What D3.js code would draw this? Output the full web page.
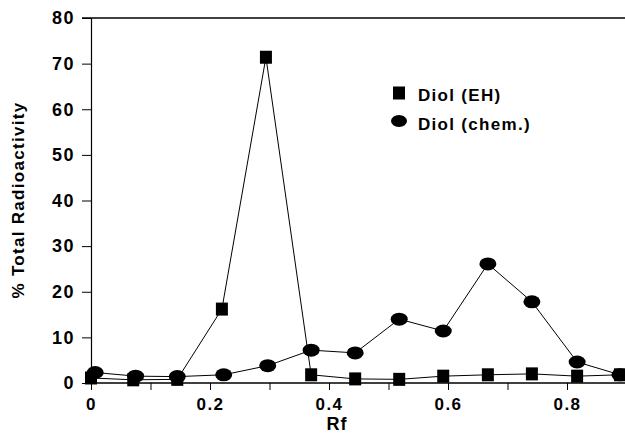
<!DOCTYPE html>
<html>
<head>
<meta charset="utf-8">
<script src="https://cdn.jsdelivr.net/npm/d3@7"></script>
<style>
  body { margin: 0; background: #fff; }
  svg { display: block; font-family: Arial, "Liberation Sans", Helvetica, sans-serif; }
  text { font-weight: bold; fill: #000; }
</style>
</head>
<body>
<div id="main"></div>
<script>
// Rf positions of the fractions
const rfEH = [0, 0.071, 0.145, 0.220, 0.294, 0.370, 0.444, 0.518, 0.592, 0.667, 0.741, 0.817, 0.889];
const valEH = [1.1, 0.7, 0.8, 16.2, 71.4, 1.8, 0.9, 0.8, 1.5, 1.8, 2.0, 1.5, 1.8];
const rfChem = [0.007, 0.075, 0.145, 0.223, 0.297, 0.370, 0.444, 0.518, 0.592, 0.667, 0.741, 0.817, 0.889];
const valChem = [2.3, 1.5, 1.4, 1.8, 3.8, 7.2, 6.6, 14.0, 11.4, 26.1, 17.8, 4.6, 1.8];
const yTicks = [0, 10, 20, 30, 40, 50, 60, 70, 80];
const xTicks = [0, 0.1, 0.2, 0.3, 0.4, 0.5, 0.6, 0.7, 0.8];
const xLabels = ["0", "", "0.2", "", "0.4", "", "0.6", "", "0.8"];
const seriesNames = ["Diol (EH)", "Diol (chem.)"];

const width = 625, height = 435;
const margin = { left: 91, top: 18 };

const svg = d3.select("div#main").append("svg")
  .attr("width", width)
  .attr("height", height);

const x = d3.scaleLinear().domain([0, 0.9]).range([margin.left, margin.left + 535.5]);
const y = d3.scaleLinear().domain([0, 80]).range([383, margin.top]);

//Axes.
const yAxis = svg.append("g")
  .attr("transform", "translate(" + margin.left + ",0)")
  .call(d3.axisLeft(y).tickValues(yTicks).tickSize(9).tickPadding(7).tickFormat(d3.format("d")));
yAxis.select(".domain").attr("stroke-width", 1.2);
yAxis.selectAll("text").style("font-size", "18px").style("letter-spacing", "1.5px");

const xAxis = svg.append("g")
  .attr("transform", "translate(0," + y(0) + ")")
  .call(d3.axisBottom(x).tickValues(xTicks).tickSize(7).tickPadding(8)
    .tickFormat(function (d, i) { return xLabels[i]; }));
xAxis.select(".domain").attr("d", "M" + x(0) + ",0H" + width).attr("stroke-width", 1.5);
xAxis.selectAll("text").style("font-size", "17px").style("letter-spacing", "1.5px");

// top frame line
svg.append("line")
  .attr("x1", margin.left - 9).attr("x2", width)
  .attr("y1", y(80)).attr("y2", y(80))
  .attr("stroke", "#000").attr("stroke-width", 1.5);

// titles
svg.append("text")
  .attr("transform", "translate(24," + 200 + ") rotate(-90)")
  .attr("text-anchor", "middle")
  .style("font-size", "17px")
  .style("letter-spacing", "1.3px")
  .text("% Total Radioactivity");
svg.append("text")
  .attr("x", 337).attr("y", 430)
  .attr("text-anchor", "middle")
  .style("font-size", "18px")
  .style("letter-spacing", "1px")
  .text("Rf");

//Lines.
const line = d3.line().x(function (d) { return x(d[0]); }).y(function (d) { return y(d[1]); });
const ehData = rfEH.map(function (r, i) { return [r, valEH[i]]; });
const chemData = rfChem.map(function (r, i) { return [r, valChem[i]]; });

svg.append("path").datum(chemData)
  .attr("d", line).attr("fill", "none").attr("stroke", "#000").attr("stroke-width", 1);
svg.append("path").datum(ehData)
  .attr("d", line).attr("fill", "none").attr("stroke", "#000").attr("stroke-width", 1);

//Markers.
svg.selectAll("ellipse.chem").data(chemData)
  .enter().append("ellipse")
  .attr("class", "chem")
  .attr("cx", function (d) { return x(d[0]); })
  .attr("cy", function (d) { return y(d[1]); })
  .attr("rx", 8.5).attr("ry", 6.5)
  .attr("fill", "#000");
svg.selectAll("rect.eh").data(ehData)
  .enter().append("rect")
  .attr("class", "eh")
  .attr("x", function (d) { return x(d[0]) - 6; })
  .attr("y", function (d) { return y(d[1]) - 6.5; })
  .attr("width", 12).attr("height", 13)
  .attr("fill", "#000");

//Legend.
const legend = svg.append("g").attr("transform", "translate(399,93)");
legend.append("rect").attr("x", -6).attr("y", -6.5).attr("width", 12).attr("height", 13).attr("fill", "#000");
legend.append("ellipse").attr("cx", 0).attr("cy", 28).attr("rx", 8).attr("ry", 6).attr("fill", "#000");
legend.selectAll("text").data(seriesNames)
  .enter().append("text")
  .attr("x", 19)
  .attr("y", function (d, i) { return 8 + i * 29; })
  .style("font-size", "17px")
  .style("letter-spacing", "1.3px")
  .text(function (d) { return d; });
</script>
</body>
</html>
